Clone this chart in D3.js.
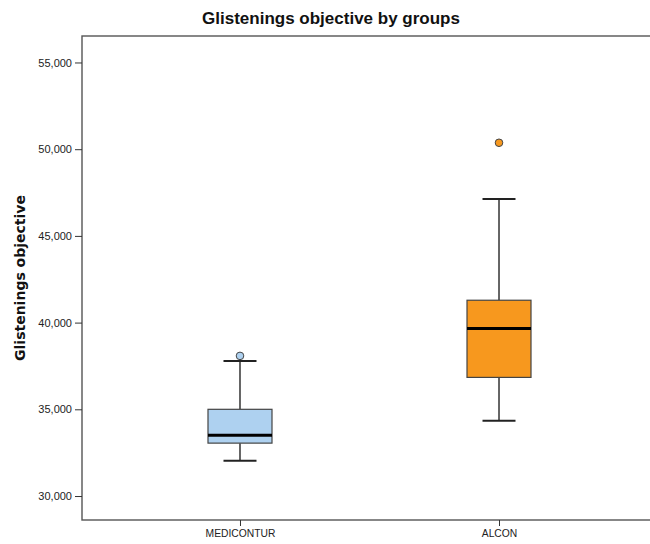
<!DOCTYPE html>
<html><head><meta charset="utf-8">
<script src="https://cdn.jsdelivr.net/npm/d3@7/dist/d3.min.js"></script>
<style>body{margin:0;background:#fff}</style>
</head><body>
<script>
const categories = ["MEDICONTUR", "ALCON"];
const whiskerLow = [32030, 34340];
const q1 = [33050, 36840];
const median = [33510, 39660];
const q3 = [35000, 41290];
const whiskerHigh = [37790, 47130];
const outliers = [[38080], [50370]];
const yTicks = [30000, 35000, 40000, 45000, 50000, 55000];
const fills = ["#AED1F0", "#F7981E"];

const W = 650, H = 544;
const L = 82, R = 657, T = 36, B = 520;
const svg = d3.select("body").append("svg").attr("width", W).attr("height", H)
  .style("font-family", "'Liberation Sans', Arial, sans-serif");

const y = d3.scaleLinear().domain([28617, 56527]).range([B, T]);
const x = d3.scalePoint().domain(categories).range([L, R]).padding(0.61);

// frame
svg.append("rect").attr("x", L).attr("y", T).attr("width", R - L).attr("height", B - T)
  .attr("fill", "none").attr("stroke", "#555").attr("stroke-width", 1.4);

// y axis
const ya = svg.append("g").attr("transform", `translate(${L},0)`)
  .call(d3.axisLeft(y).tickValues(yTicks).tickSize(7).tickPadding(3)
    .tickFormat(d3.format(",")));
ya.select(".domain").remove();
ya.selectAll("line").attr("stroke", "#333");
ya.selectAll("text").attr("font-size", "11px").attr("fill", "#222")
  .attr("font-family", "'Liberation Sans', Arial, sans-serif");

// x axis
const xa = svg.append("g").attr("transform", `translate(0,${B})`)
  .call(d3.axisBottom(x).tickSize(6).tickPadding(4));
xa.select(".domain").remove();
xa.selectAll("line").attr("stroke", "#333");
xa.selectAll("text").attr("font-size", "10.3px").attr("fill", "#222")
  .attr("font-family", "'Liberation Sans', Arial, sans-serif");

const bw = 64, cw = 33;
categories.forEach((c, i) => {
  const cx = x(c);
  const g = svg.append("g");
  g.append("line").attr("x1", cx).attr("x2", cx).attr("y1", y(q3[i])).attr("y2", y(whiskerHigh[i]))
    .attr("stroke", "#333").attr("stroke-width", 1.5);
  g.append("line").attr("x1", cx).attr("x2", cx).attr("y1", y(q1[i])).attr("y2", y(whiskerLow[i]))
    .attr("stroke", "#333").attr("stroke-width", 1.5);
  [whiskerHigh[i], whiskerLow[i]].forEach(v => {
    g.append("line").attr("x1", cx - cw / 2).attr("x2", cx + cw / 2).attr("y1", y(v)).attr("y2", y(v))
      .attr("stroke", "#222").attr("stroke-width", 2);
  });
  g.append("rect").attr("x", cx - bw / 2).attr("y", y(q3[i])).attr("width", bw)
    .attr("height", y(q1[i]) - y(q3[i])).attr("fill", fills[i]).attr("stroke", "#444").attr("stroke-width", 1.2);
  g.append("line").attr("x1", cx - bw / 2).attr("x2", cx + bw / 2).attr("y1", y(median[i])).attr("y2", y(median[i]))
    .attr("stroke", "#000").attr("stroke-width", 3);
  outliers[i].forEach(v => {
    g.append("circle").attr("cx", cx).attr("cy", y(v)).attr("r", 3.8)
      .attr("fill", fills[i]).attr("stroke", "#444").attr("stroke-width", 1);
  });
});

svg.append("text").attr("x", 331).attr("y", 24).attr("text-anchor", "middle")
  .attr("font-size", "17px").attr("font-weight", "bold").attr("fill", "#111")
  .text("Glistenings objective by groups");

svg.append("text").attr("transform", "translate(25,278) rotate(-90)").attr("text-anchor", "middle")
  .attr("font-family", "'DejaVu Sans', Verdana, sans-serif")
  .attr("font-size", "14px").attr("font-weight", "bold").attr("fill", "#111")
  .text("Glistenings objective");
</script>
</body></html>
